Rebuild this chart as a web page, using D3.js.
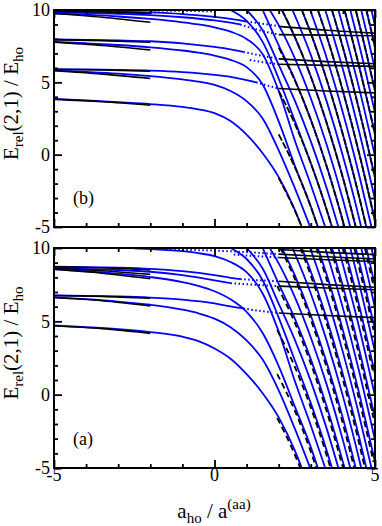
<!DOCTYPE html>
<html>
<head>
<meta charset="utf-8">
<script src="https://cdn.jsdelivr.net/npm/d3@7"></script>
<style>
body{margin:0;background:#fff;}
</style>
</head>
<body>
<script>
//tick values and labels
var xMajor = [-5, 0, 5];
var xMinor = [-4, -3, -2, -1, 1, 2, 3, 4];
var yMajor = [-5, 0, 5, 10];
var yMinor = [-4, -3, -2, -1, 1, 2, 3, 4, 6, 7, 8, 9];
var xTickLabels = ["-5", "0", "5"];
var yTickLabels = ["-5", "0", "5", "10"];
var panelLabels = ["(b)", "(a)"];
var serif = "'Liberation Serif', 'Times New Roman', Times, serif";

//steep dimer+atom curves shared by both panels
var steepBlue = [
    [[0.5,10],[1,9.25],[1.5,7.8],[2,5.25],[2.5,2.35],[3,-0.58],[3.5,-3.85],[3.66,-5]],
    [[1.0,10],[1.5,8.6],[2,6.2],[2.5,3.75],[3,0.92],[3.5,-2.35],[3.86,-5]],
    [[1.5,10],[2,7.55],[2.5,5.2],[3,2.42],[3.5,-0.84],[4,-4.6],[4.05,-5]],
    [[1.72,10],[2,8.95],[2.5,6.67],[3,3.9],[3.5,0.65],[4,-3.1],[4.23,-5]],
    [[2.1,10],[2.5,8.15],[3,5.4],[3.5,2.15],[4,-1.6],[4.4,-5]],
    [[2.43,10],[3,6.9],[3.5,3.65],[4,-0.1],[4.5,-4.35],[4.57,-5]],
    [[2.72,10],[3,8.4],[3.5,5.15],[4,1.4],[4.5,-2.85],[4.73,-5]],
    [[2.98,10],[3.5,6.65],[4,2.9],[4.5,-1.35],[4.89,-5]],
    [[3.22,10],[3.5,8.15],[4,4.4],[4.5,0.15],[5,-4.6]],
    [[3.45,10],[4,5.9],[4.5,1.65],[5,-3.1]],
    [[3.66,10],[4,7.4],[4.5,3.15],[5,-1.6]],
    [[3.86,10],[4.5,4.65],[5,-0.1]],
    [[4.05,10],[4.5,6.15],[5,1.4]],
    [[4.23,10],[4.5,7.65],[5,2.9]],
    [[4.4,10],[4.7,7.31],[5,4.4]],
    [[4.57,10],[4.8,7.86],[5,5.9]],
    [[4.73,10],[4.86,8.78],[5,7.4]],
    [[4.89,10],[5,8.9]]
];

//black asymptotes of the steep curves (every other one)
var steepBlack = [
    [[2,-1.6],[2.5,-3.85],[2.72,-5]],
    [[2,1.4],[2.5,-0.85],[3,-3.6],[3.22,-5]],
    [[2,4.4],[2.5,2.15],[3,-0.6],[3.5,-3.85],[3.66,-5]],
    [[2,7.4],[2.5,5.15],[3,2.4],[3.5,-0.85],[4,-4.6],[4.05,-5]],
    [[2.1,10],[2.5,8.15],[3,5.4],[3.5,2.15],[4,-1.6],[4.4,-5]],
    [[2.72,10],[3,8.4],[3.5,5.15],[4,1.4],[4.5,-2.85],[4.73,-5]],
    [[3.22,10],[3.5,8.15],[4,4.4],[4.5,0.15],[5,-4.6]],
    [[3.66,10],[4,7.4],[4.5,3.15],[5,-1.6]],
    [[4.05,10],[4.5,6.15],[5,1.4]],
    [[4.4,10],[4.7,7.31],[5,4.4]],
    [[4.73,10],[4.86,8.78],[5,7.4]]
];

//panel (b) curves
var blueB = [
    [[-5,3.85],[-4,3.75],[-3,3.63],[-2,3.5],[-1,3.3],[-0.5,3.13],[0,2.87],[0.5,2.32],[1,1.38],[1.5,0.1],[2,-1.55],[2.5,-3.8],[2.72,-5]],
    [[-5,5.82],[-4,5.72],[-3,5.6],[-2,5.43],[-1,5.2],[-0.5,5.05],[0,4.82],[0.5,4.4],[1,3.7],[1.5,2.5],[2,0.3],[2.5,-2.3],[2.98,-5]],
    [[-5,7.8],[-4,7.7],[-3,7.58],[-2,7.42],[-1,7.2],[-0.5,7.05],[0,6.85],[0.5,6.55],[1,6.05],[1.5,4.85],[2,2.3],[2.5,-0.75],[3,-3.58],[3.22,-5]],
    [[-5,9.77],[-4,9.67],[-3,9.55],[-2,9.38],[-1,9.15],[-0.5,9.0],[0,8.8],[0.5,8.5],[1,8.0],[1.5,6.95],[2,4.4],[2.5,1.0],[3,-2.08],[3.45,-5]],
    [[-5,5.9],[-4,5.89],[-3,5.86],[-2,5.81],[-1,5.71],[0,5.52],[0.5,5.38],[1,5.15],[1.3,5.0]],
    [[-5,7.96],[-4,7.94],[-3,7.9],[-2,7.84],[-1,7.7],[0,7.45],[0.5,7.28],[0.9,7.1]],
    [[-5,9.91],[-4,9.9],[-3,9.87],[-2,9.83],[-1,9.72],[0,9.52],[0.5,9.38],[1,9.2]],
    [[-5,9.84],[-3,9.74],[-2,9.65],[-1,9.5],[0,9.28],[0.5,9.12],[0.8,9.0]]
];
var dottedB = [
    [[1.3,5.0],[1.65,4.78],[2,4.57]],
    [[0.9,7.1],[1.45,6.85],[2,6.62]],
    [[1.1,6.55],[1.55,6.38],[2,6.25]],
    [[1,9.2],[1.5,9.05],[2,8.87]],
    [[0.8,9.0],[1.4,8.6],[2,8.3]],
    [[-2,9.97],[-1,9.94],[0,9.9]]
];
var leftBlackB = [
    [[-5,3.82],[-3.5,3.66],[-2,3.42]],
    [[-5,5.9],[-3.5,5.85],[-2,5.77]],
    [[-5,5.8],[-3.5,5.57],[-2,5.27]],
    [[-5,7.95],[-3.5,7.88],[-2,7.77]],
    [[-5,7.78],[-3.5,7.55],[-2,7.24]],
    [[-5,9.91],[-3.5,9.86],[-2,9.77]],
    [[-5,9.76],[-3.5,9.5],[-2,9.15]]
];
var rightBlackB = [
    [[2,4.57],[3.5,4.4],[5,4.27]],
    [[2,6.62],[3.5,6.43],[5,6.28]],
    [[2,6.25],[3.5,6.17],[5,6.1]],
    [[2,8.87],[3.5,8.6],[5,8.4]],
    [[2,8.3],[3.5,8.26],[5,8.22]]
];

//panel (a) curves
var blueA = [
    [[-5,4.72],[-4,4.61],[-3,4.47],[-2,4.27],[-1,3.95],[-0.5,3.65],[0,3.15],[0.5,2.45],[1,1.4],[1.5,0.1],[2,-1.55],[2.5,-3.8],[2.72,-5]],
    [[-5,6.63],[-4,6.51],[-3,6.35],[-2,6.13],[-1,5.8],[-0.5,5.55],[0,5.18],[0.5,4.6],[1,3.7],[1.5,2.4],[2,0.3],[2.5,-2.3],[2.98,-5]],
    [[-5,8.55],[-4,8.42],[-3,8.25],[-2,8.02],[-1,7.68],[-0.5,7.42],[0,7.05],[0.5,6.5],[1,5.65],[1.5,4.2],[2,1.95],[2.5,-0.8],[3,-3.58],[3.22,-5]],
    [[-2.5,9.97],[-2,9.93],[-1,9.78],[-0.5,9.65],[0,9.45],[0.5,9.05],[1,8.35],[1.5,6.9],[2,4.3],[2.5,0.95],[3,-2.1],[3.45,-5]],
    [[-5,6.76],[-4,6.74],[-3,6.7],[-2,6.62],[-1,6.48],[0,6.22],[0.5,6.02],[0.9,5.88]],
    [[-5,8.72],[-4,8.7],[-3,8.66],[-2,8.58],[-1,8.42],[0,8.15],[0.5,7.97],[0.8,7.88]],
    [[-5,8.63],[-3,8.5],[-2,8.38],[-1,8.15],[0,7.8],[0.5,7.6]]
];
var dottedA = [
    [[0.9,5.88],[1.45,5.7],[2,5.57]],
    [[0.8,7.88],[1.4,7.8],[2,7.73]],
    [[0.5,7.6],[1.25,7.5],[2,7.4]],
    [[-1.5,9.9],[0,9.82],[1,9.72],[2,9.58]],
    [[0.6,9.55],[1.3,9.45],[2,9.35]]
];
var leftBlackA = [
    [[-5,4.68],[-3.5,4.5],[-2,4.18]],
    [[-5,6.76],[-3.5,6.7],[-2,6.57]],
    [[-5,6.62],[-3.5,6.4],[-2,6.05]],
    [[-5,8.72],[-3.5,8.65],[-2,8.5]],
    [[-5,8.62],[-3.5,8.45],[-2,8.2]],
    [[-5,8.55],[-3.5,8.28],[-2,7.9]]
];
var rightBlackA = [
    [[2,5.57],[3.5,5.4],[5,5.25]],
    [[2,7.73],[3.5,7.5],[5,7.32]],
    [[2,7.4],[3.5,7.27],[5,7.15]],
    [[2,9.58],[3.5,9.4],[5,9.25]],
    [[2,9.35],[3.5,9.2],[5,9.08]],
    [[2,9.9],[3.5,9.7],[5,9.55]]
];

//begin script when window loads
window.onload = setChart();

function setChart(){
    var width = 382, height = 526;

    var svg = d3.select("body")
        .append("svg")
        .attr("width", width)
        .attr("height", height);

    //shared x scale
    var x = d3.scaleLinear().domain([-5, 5]).range([54, 375]);

    var panels = [
        {top: 10, bottom: 227, label: panelLabels[0], blue: blueB, dotted: dottedB,
         left: leftBlackB, right: rightBlackB, dashed: false, xLabels: false},
        {top: 248, bottom: 468, label: panelLabels[1], blue: blueA, dotted: dottedA,
         left: leftBlackA, right: rightBlackA, dashed: true, xLabels: true}
    ];

    panels.forEach(function(p, i){
        drawPanel(svg, x, p, i);
    });

    //x axis title
    var xt = svg.append("text")
        .attr("x", 214)
        .attr("y", 518)
        .attr("text-anchor", "middle")
        .attr("font-family", serif)
        .style("font-size", "21px");
    xt.append("tspan").text("a");
    xt.append("tspan").attr("dy", 5).style("font-size", "15px").text("ho");
    xt.append("tspan").attr("dy", -5).text(" / a");
    xt.append("tspan").attr("dy", -9).style("font-size", "15px").text("(aa)");
};

function drawPanel(svg, x, p, i){
    var y = d3.scaleLinear().domain([-5, 10]).range([p.bottom, p.top]);

    var line = d3.line()
        .x(function(d){ return x(d[0]); })
        .y(function(d){ return y(d[1]); })
        .curve(d3.curveMonotoneX);

    //clip the curves to the plot frame
    var clipId = "clip" + i;
    svg.append("clipPath")
        .attr("id", clipId)
        .append("rect")
        .attr("x", x(-5))
        .attr("y", p.top)
        .attr("width", x(5) - x(-5))
        .attr("height", p.bottom - p.top);

    var g = svg.append("g").attr("clip-path", "url(#" + clipId + ")");

    //blue numerical curves
    g.selectAll(".blue")
        .data(p.blue.concat(steepBlue))
        .enter()
        .append("path")
        .attr("class", "blue")
        .attr("d", line)
        .style("fill", "none")
        .style("stroke", "#0000ff")
        .style("stroke-width", 1.8);

    //sparse blue points near avoided crossings
    g.selectAll(".dots")
        .data(p.dotted)
        .enter()
        .append("path")
        .attr("class", "dots")
        .attr("d", line)
        .style("fill", "none")
        .style("stroke", "#0000ff")
        .style("stroke-width", 2)
        .style("stroke-dasharray", "1.5,2.5");

    //black asymptotic curves on both sides
    g.selectAll(".asym")
        .data(p.left.concat(p.right))
        .enter()
        .append("path")
        .attr("class", "asym")
        .attr("d", line)
        .style("fill", "none")
        .style("stroke", "#000")
        .style("stroke-width", 1.6);

    //deep dimer asymptotes: solid in (b), dashed in (a)
    var steep = g.selectAll(".steep")
        .data(steepBlack)
        .enter()
        .append("path")
        .attr("class", "steep")
        .attr("d", line)
        .style("fill", "none")
        .style("stroke", "#000")
        .style("stroke-width", 1.8);
    if (p.dashed){
        steep.style("stroke-dasharray", "6,4")
            .attr("transform", "translate(-1.5,0)");
    } else {
        steep.style("stroke-dasharray", "7,2");
    };

    //frame
    svg.append("rect")
        .attr("x", x(-5))
        .attr("y", p.top)
        .attr("width", x(5) - x(-5))
        .attr("height", p.bottom - p.top)
        .style("fill", "none")
        .style("stroke", "#000")
        .style("stroke-width", 2);

    //inward ticks on all four sides
    var axes = [
        {gen: d3.axisBottom(x), t: "translate(0," + p.bottom + ")", maj: xMajor, min: xMinor},
        {gen: d3.axisTop(x), t: "translate(0," + p.top + ")", maj: xMajor, min: xMinor},
        {gen: d3.axisLeft(y), t: "translate(" + x(-5) + ",0)", maj: yMajor, min: yMinor},
        {gen: d3.axisRight(y), t: "translate(" + x(5) + ",0)", maj: yMajor, min: yMinor}
    ];
    axes.forEach(function(a){
        [[a.maj, -8], [a.min, -4]].forEach(function(s){
            var ax = svg.append("g")
                .attr("transform", a.t)
                .call(a.gen.tickValues(s[0]).tickSize(s[1]).tickFormat(""));
            ax.select(".domain").remove();
            ax.selectAll("line").style("stroke", "#000").style("stroke-width", 1.8);
        });
    });

    //y tick labels
    svg.selectAll(".ylab" + i)
        .data(yMajor)
        .enter()
        .append("text")
        .attr("class", "ylab" + i)
        .attr("x", 50)
        .attr("y", function(d){ return y(d); })
        .attr("dy", "0.35em")
        .attr("text-anchor", "end")
        .attr("font-family", serif)
        .style("font-size", "18px")
        .text(function(d, j){ return yTickLabels[j]; });

    //x tick labels only on the lower panel
    if (p.xLabels){
        svg.selectAll(".xlab")
            .data(xMajor)
            .enter()
            .append("text")
            .attr("class", "xlab")
            .attr("x", function(d){ return x(d); })
            .attr("y", p.bottom + 13)
            .attr("text-anchor", "middle")
            .attr("font-family", serif)
            .style("font-size", "18px")
            .text(function(d, j){ return xTickLabels[j]; });
    };

    //panel letter
    svg.append("text")
        .attr("x", 73)
        .attr("y", p.bottom - 23)
        .attr("font-family", serif)
        .style("font-size", "18px")
        .text(p.label);

    //y axis title
    var cy = (p.top + p.bottom) / 2 - 15;
    var yt = svg.append("text")
        .attr("transform", "translate(18," + cy + ") rotate(-90)")
        .attr("text-anchor", "middle")
        .attr("font-family", serif)
        .style("font-size", "21px");
    yt.append("tspan").text("E");
    yt.append("tspan").attr("dy", 5).style("font-size", "15px").text("rel");
    yt.append("tspan").attr("dy", -5).text("(2,1) / E");
    yt.append("tspan").attr("dy", 5).style("font-size", "15px").text("ho");
};
</script>
</body>
</html>
